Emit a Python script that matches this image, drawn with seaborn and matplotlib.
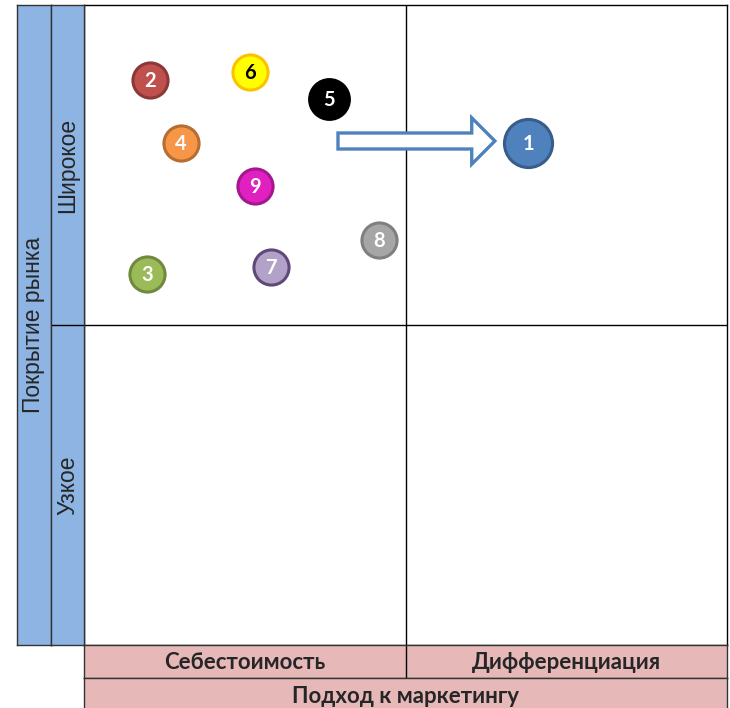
import matplotlib
matplotlib.use("Agg")
import matplotlib.pyplot as plt
import seaborn as sns
import pandas as pd
from matplotlib.patches import FancyArrow

# positions in the matrix: x 0..1 = cost, 1..2 = differentiation; y 0..1 = narrow, 1..2 = broad
labels = ["1", "2", "3", "4", "5", "6", "7", "8", "9"]
xs = [1.381, 0.205, 0.196, 0.302, 0.762, 0.516, 0.582, 0.918, 0.532]
ys = [1.569, 1.766, 1.159, 1.569, 1.706, 1.791, 1.181, 1.266, 1.434]
fills = ["#4F81BD", "#C0504D", "#9BBB59", "#F79646", "#000000", "#FFFF00", "#B3A2C7", "#A6A6A6", "#E020C0"]
edges = ["#385D8A", "#8C3836", "#71893F", "#B66D31", "#000000", "#FFC000", "#5F497A", "#7F7F7F", "#A5178F"]
text_colors = ["white", "white", "white", "white", "white", "black", "white", "white", "white"]
sizes = [1200, 640, 640, 640, 820, 640, 640, 640, 640]

arrow_start = (0.79, 1.575)
arrow_end = (1.278, 1.575)

x_labels = ["Себестоимость", "Дифференциация"]
x_title = "Подход к маркетингу"
y_labels = ["Узкое", "Широкое"]
y_title = "Покрытие рынка"

df = pd.DataFrame({"label": labels, "x": xs, "y": ys, "fill": fills, "edge": edges,
                   "tc": text_colors, "s": sizes})

sns.set_style("white")
W, H = 730, 708
fig = plt.figure(figsize=(W / 100, H / 100), dpi=100)


def px_axes(x0, y0, x1, y1):
	return fig.add_axes([x0 / W, 1 - y1 / H, (x1 - x0) / W, (y1 - y0) / H])


BLUE = "#8DB4E2"
PINK = "#E6B9B8"

# main matrix
ax = px_axes(84, 5, 727, 645)
ax.set_xlim(0, 2)
ax.set_ylim(0, 2)
ax.axvline(1, color="black", lw=1)
ax.axhline(1, color="black", lw=1)
for s in ax.spines.values():
	s.set_color("black")
	s.set_linewidth(1)
ax.set_xticks([])
ax.set_yticks([])

ax.add_patch(FancyArrow(arrow_start[0], arrow_start[1], arrow_end[0] - arrow_start[0], 0,
                        width=0.05, head_width=0.145, head_length=0.072, length_includes_head=True,
                        facecolor="white", edgecolor="#4F81BD", lw=2.4, zorder=2))

for _, r in df.iterrows():
	sns.scatterplot(x=[r["x"]], y=[r["y"]], s=r["s"], color=r["fill"], edgecolor=r["edge"],
	                linewidth=2.2, ax=ax, zorder=3, legend=False)
	ax.text(r["x"], r["y"] - 0.004, r["label"], color=r["tc"], ha="center", va="center",
	        fontsize=14.5, fontweight="bold", family="Lato", zorder=4)

# left bars
ax_out = px_axes(17, 5, 51, 645)
ax_out.set_facecolor(BLUE)
ax_out.text(0.5, 0.5, y_title, rotation=90, ha="center", va="center", fontsize=16.5,
            family="Liberation Sans", transform=ax_out.transAxes)
ax_in = px_axes(51, 5, 84, 645)
ax_in.set_facecolor(BLUE)
ax_in.set_ylim(0, 2)
ax_in.axhline(1, color="black", lw=1)
for i, lab in enumerate(y_labels):
	ax_in.text(0.5, i + 0.5, lab, rotation=90, ha="center", va="center", fontsize=16.5,
	           family="Liberation Sans")

# bottom bars
ax_b1 = px_axes(84, 645, 727, 678)
ax_b1.set_facecolor(PINK)
ax_b1.set_xlim(0, 2)
ax_b1.axvline(1, color="black", lw=1)
for i, lab in enumerate(x_labels):
	ax_b1.text(i + 0.5, 0.47, lab, ha="center", va="center", fontsize=16, fontweight="bold",
	           family="Lato", transform=ax_b1.get_xaxis_transform())
ax_b2 = px_axes(84, 678, 727, 712)
ax_b2.set_facecolor(PINK)
ax_b2.text(0.5, 0.47, x_title, ha="center", va="center", fontsize=16, fontweight="bold",
           family="Lato", transform=ax_b2.transAxes)

for a in [ax_out, ax_in, ax_b1, ax_b2]:
	a.set_xticks([])
	a.set_yticks([])
	for s in a.spines.values():
		s.set_color("#333333")
		s.set_linewidth(1)

fig.savefig("out.png", dpi=100)
